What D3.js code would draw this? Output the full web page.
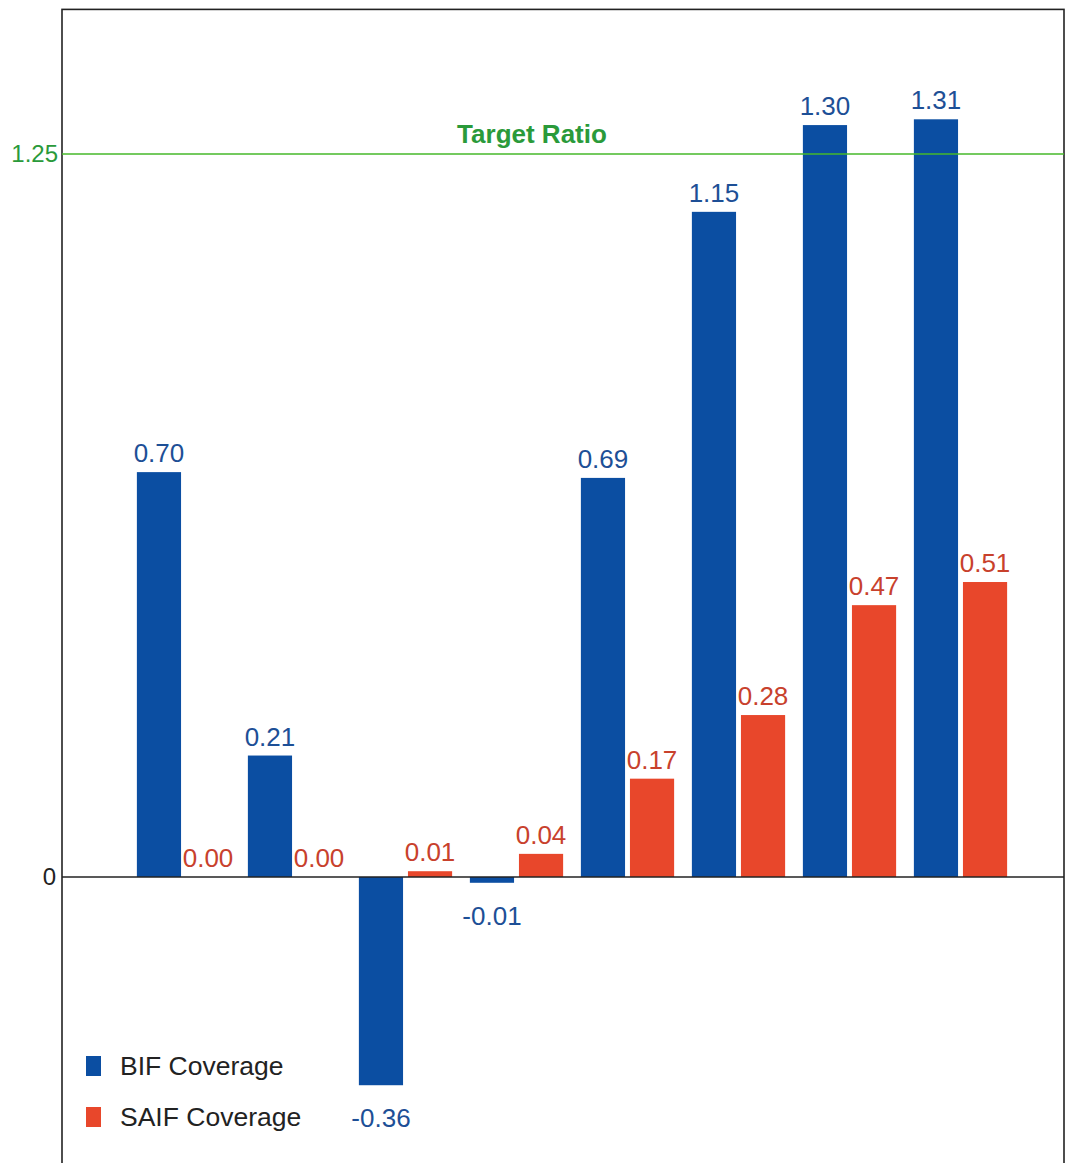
<!DOCTYPE html>
<html>
<head>
<meta charset="utf-8">
<script src="https://cdn.jsdelivr.net/npm/d3@7"></script>
<style>
  html, body { margin: 0; padding: 0; background: #fff; }
  svg { display: block; font-family: "Liberation Sans", Arial, Helvetica, sans-serif; }
</style>
</head>
<body>
<svg id="chart" width="1066" height="1163"></svg>
<script>
// ---- data ----
const categories = ["G1", "G2", "G3", "G4", "G5", "G6", "G7", "G8"];
const seriesNames = ["BIF Coverage", "SAIF Coverage"];
const bifValues = [0.70, 0.21, -0.36, -0.01, 0.69, 1.15, 1.30, 1.31];
const saifValues = [0.00, 0.00, 0.01, 0.04, 0.17, 0.28, 0.47, 0.51];
const targetRatio = 1.25;
const targetLabel = "Target Ratio";
const yTickValues = [0, 1.25];
const yTickLabels = ["0", "1.25"];

// ---- layout ----
const plotLeft = 62, plotRight = 1064;
const colors = { bar: ["#0b4ea2", "#e8472b"], label: ["#1d4f96", "#c8412c"] };
const targetColor = "#46b82a", targetText = "#2a9a3a";

const svg = d3.select("#chart");

const y = d3.scaleLinear().domain([0, 1.25]).range([877, 154]);
const x0 = d3.scaleBand().domain(categories).range([128, 1016]).paddingInner(0.16).paddingOuter(0.08);
const x1 = d3.scaleBand().domain(seriesNames).range([0, x0.bandwidth()]).paddingInner(0.1);

const data = categories.map((c, i) => ({ cat: c, vals: [bifValues[i], saifValues[i]] }));

// frame
svg.append("rect")
  .attr("x", plotLeft).attr("y", y(1.5))
  .attr("width", plotRight - plotLeft).attr("height", y(-0.5) - y(1.5) + 10)
  .attr("fill", "none").attr("stroke", "#222").attr("stroke-width", 1.6);

// bars
const groups = svg.append("g").selectAll("g").data(data).join("g")
  .attr("transform", d => `translate(${x0(d.cat)},0)`);

groups.selectAll("rect").data(d => d.vals.map((v, k) => ({ v, k })))
  .join("rect")
  .attr("x", d => x1(seriesNames[d.k]))
  .attr("width", x1.bandwidth())
  .attr("y", d => y(Math.max(0, d.v)))
  .attr("height", d => Math.abs(y(d.v) - y(0)))
  .attr("fill", d => colors.bar[d.k]);

// value labels
groups.selectAll("text").data(d => d.vals.map((v, k) => ({ v, k })))
  .join("text")
  .attr("x", d => x1(seriesNames[d.k]) + x1.bandwidth() / 2)
  .attr("y", d => d.v < 0 ? y(d.v) + 42 : y(d.v) - 10)
  .attr("text-anchor", "middle")
  .attr("font-size", 26)
  .attr("fill", d => colors.label[d.k])
  .text(d => d.v.toFixed(2));

// zero line
svg.append("line")
  .attr("x1", plotLeft).attr("x2", plotRight)
  .attr("y1", y(0)).attr("y2", y(0))
  .attr("stroke", "#222").attr("stroke-width", 1.6);

// target line
svg.append("line")
  .attr("x1", plotLeft).attr("x2", plotRight)
  .attr("y1", y(targetRatio)).attr("y2", y(targetRatio))
  .attr("stroke", targetColor).attr("stroke-width", 1.6);

svg.append("text")
  .attr("x", 532).attr("y", y(targetRatio) - 11)
  .attr("text-anchor", "middle")
  .attr("font-size", 26).attr("font-weight", "bold")
  .attr("fill", targetText)
  .text(targetLabel);

// y tick labels
svg.append("g").selectAll("text").data(yTickValues).join("text")
  .attr("x", (d, i) => i === 0 ? 56 : 58)
  .attr("y", d => y(d))
  .attr("dy", "0.35em")
  .attr("text-anchor", "end")
  .attr("font-size", 24)
  .attr("fill", (d, i) => i === 0 ? "#222" : targetText)
  .text((d, i) => yTickLabels[i]);

// legend
const legend = svg.append("g").selectAll("g").data(seriesNames).join("g")
  .attr("transform", (d, i) => `translate(86,${1056 + i * 51})`);
legend.append("rect").attr("width", 15).attr("height", 20)
  .attr("fill", (d, i) => colors.bar[i]);
legend.append("text").attr("x", 34).attr("y", 19)
  .attr("font-size", 26.5).attr("fill", "#222")
  .text(d => d);
</script>
</body>
</html>
